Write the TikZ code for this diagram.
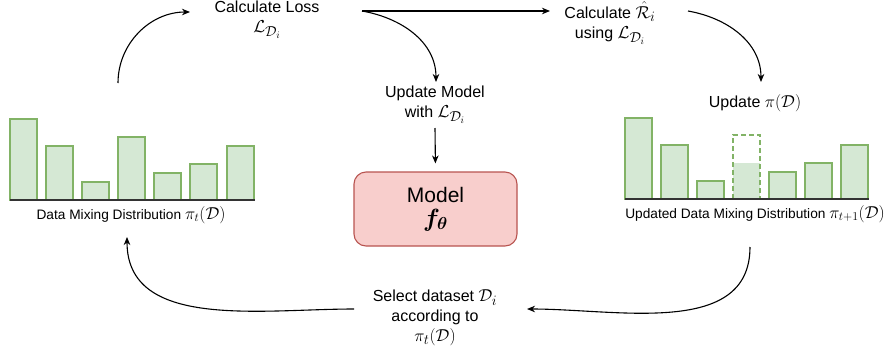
\documentclass[tikz,border=0pt]{standalone}
\usepackage{fontspec}
\setmainfont{Liberation Sans}
\usepackage{amsmath}
\usepackage{bm}
\usetikzlibrary{arrows.meta}
\DeclareMathSizes{16}{18.5}{13.5}{10}
\DeclareMathSizes{13.7}{16}{11.5}{9}
\DeclareMathSizes{21}{24}{17}{13}
\definecolor{barfill}{HTML}{D5E8D4}
\definecolor{barline}{HTML}{82B366}
\definecolor{modelfill}{HTML}{F8CECC}
\definecolor{modelline}{HTML}{B85450}

\begin{document}
\begin{tikzpicture}[x=1pt,y=-1pt,
	txt/.style={align=center,inner sep=2pt,font=\fontsize{16}{20}\selectfont},
	lbl/.style={inner sep=2pt,font=\fontsize{13.7}{16}\selectfont},
	bar/.style={draw=barline,fill=barfill,line width=1.1pt},
	flow/.style={-{Stealth[length=8pt,width=6.5pt,inset=2.5pt]},line width=1.1pt}]
\useasboundingbox (0,0) rectangle (892,354);
% bars before and after the update
\foreach \x/\t in {10/119,46/146,82/182,118/137,154/173,190/164,227/146}
	\draw[bar] (\x,200) rectangle (\x+27,\t);
\draw[line width=1.1pt,black!80] (10,200) -- (255,200);
\foreach \x/\t in {625/118,661/145,697/181,769/172,805/163,841/145}
	\draw[bar] (\x,199) rectangle (\x+27,\t);
\fill[barfill] (733,199) rectangle (760,163);
\draw[bar,fill=none,dashed,dash pattern=on 5pt off 3pt] (733,199) rectangle (760,135);
\draw[line width=1.1pt,black!80] (625,199) -- (869,199);

\node[lbl] (pit) at (131,215) {Data Mixing Distribution $\pi_t(\mathcal{D})$};
\node[lbl] (pinext) at (755,214) {Updated Data Mixing Distribution $\pi_{t+1}(\mathcal{D})$};
\coordinate (mixtop) at (118,83);

\node[txt] (loss) at (267,20) {Calculate Loss\\$\mathcal{L}_{\mathcal{D}_i}$};
\node[txt] (rhat) at (610,23) {Calculate $\hat{\mathcal{R}}_i$\\using $\mathcal{L}_{\mathcal{D}_i}$};
\node[txt] (upmodel) at (435,105) {Update Model\\with $\mathcal{L}_{\mathcal{D}_i}$};
\node[txt] (uppi) at (755,103) {Update $\pi(\mathcal{D})$};
\node[draw=modelline,fill=modelfill,line width=1.1pt,rounded corners=12pt,
	minimum width=163pt,minimum height=74pt,align=center,
	font=\fontsize{21}{24}\selectfont] (model) at (435.5,209) {Model\\$\bm{f_\theta}$};
\node[txt] (select) at (435,318) {Select dataset $\mathcal{D}_i$\\according to\\$\pi_t(\mathcal{D})$};

\path[flow]
(mixtop) edge [out=90,in=180] ([xshift=-77pt,yshift=8pt]loss.center)
([xshift=95pt,yshift=9pt]loss.center) edge ([xshift=-60pt,yshift=12pt]rhat.center)
edge [out=-10,in=90] ([xshift=1pt,yshift=23pt]upmodel.center)
([xshift=78pt,yshift=12pt]rhat.center) edge [out=-10,in=90] ([xshift=6pt,yshift=21pt]uppi.center)
([yshift=-23pt]upmodel.center) edge [shorten >=8pt] (model.north)
([xshift=-5pt,yshift=-33pt]pinext.center) edge [out=-90,in=0] ([xshift=92pt,yshift=9pt]select.center)
([xshift=-81pt,yshift=9pt]select.center) edge [out=180,in=-90] ([xshift=-4pt,yshift=-22pt]pit.center)
;
\end{tikzpicture}
\end{document}
